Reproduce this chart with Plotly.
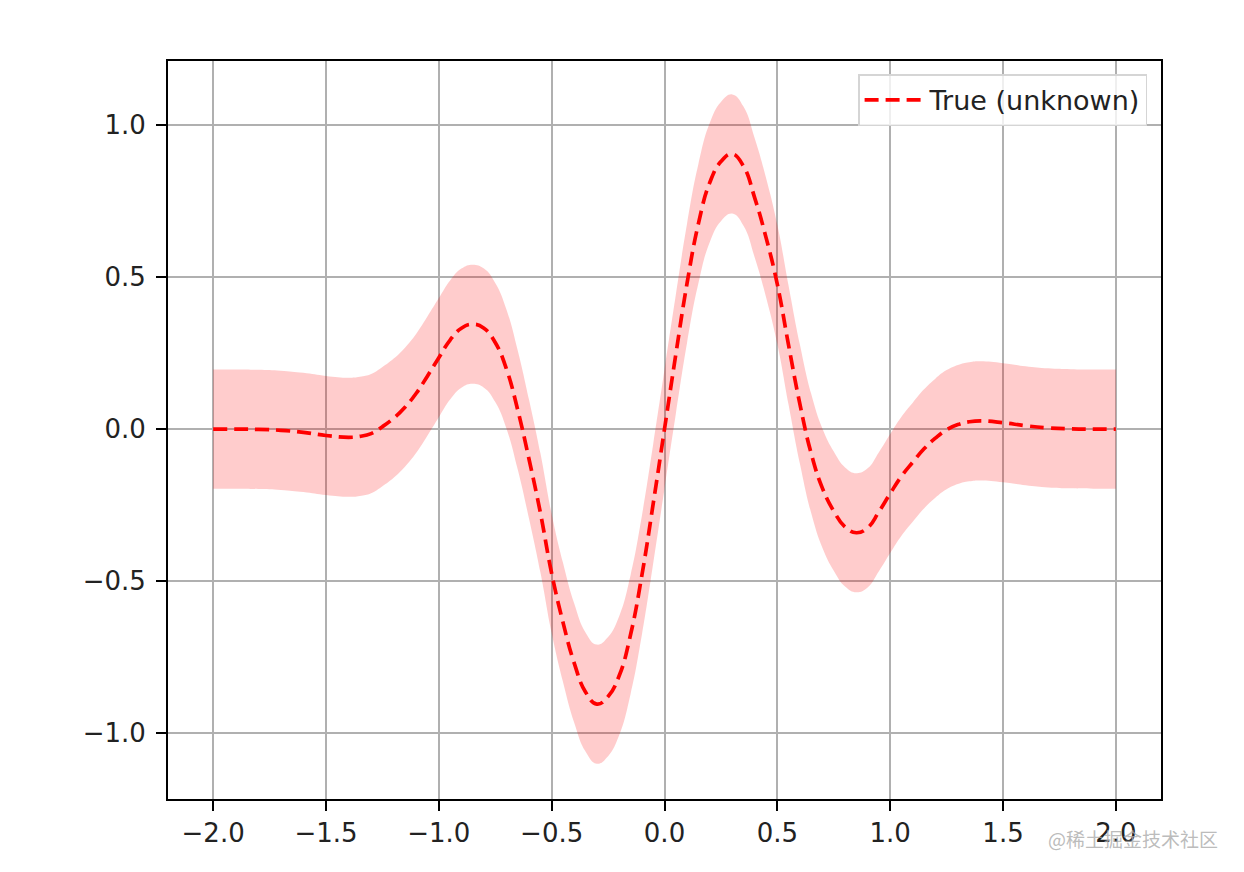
import plotly.graph_objects as go

# x positions and the "true" curve
x_vals = [-2.00, -1.90, -1.80, -1.70, -1.60, -1.50, -1.40, -1.35, -1.30, -1.25,
          -1.20, -1.15, -1.10, -1.05, -1.00, -0.95, -0.90, -0.85, -0.80, -0.75,
          -0.70, -0.65, -0.60, -0.55, -0.50, -0.45, -0.40, -0.35, -0.30, -0.25,
          -0.20, -0.15, -0.10, -0.05, 0.00, 0.05, 0.10, 0.15, 0.20, 0.25,
          0.30, 0.35, 0.40, 0.45, 0.50, 0.55, 0.60, 0.65, 0.70, 0.75,
          0.80, 0.85, 0.90, 0.95, 1.00, 1.05, 1.10, 1.15, 1.20, 1.25,
          1.30, 1.35, 1.40, 1.50, 1.60, 1.70, 1.80, 1.90, 2.00]
y_true = [0.000, 0.000, -0.001, -0.004, -0.011, -0.021, -0.027, -0.024, -0.015, 0.008,
          0.036, 0.072, 0.118, 0.175, 0.235, 0.293, 0.332, 0.345, 0.332, 0.285,
          0.197, 0.062, -0.100, -0.275, -0.475, -0.635, -0.770, -0.865, -0.905, -0.880,
          -0.810, -0.675, -0.480, -0.245, 0.000, 0.245, 0.480, 0.675, 0.810, 0.880,
          0.905, 0.865, 0.760, 0.630, 0.476, 0.275, 0.082, -0.080, -0.195, -0.270,
          -0.322, -0.341, -0.325, -0.272, -0.212, -0.155, -0.109, -0.065, -0.030, -0.002,
          0.015, 0.024, 0.027, 0.021, 0.011, 0.004, 0.001, 0.000, 0.000]

# half width of the shaded band (constant, about 1.96 * 0.1)
band_half = 0.196

x_ticks = [-2.0, -1.5, -1.0, -0.5, 0.0, 0.5, 1.0, 1.5, 2.0]
x_tick_labels = ['\u22122.0', '\u22121.5', '\u22121.0', '\u22120.5', '0.0', '0.5', '1.0', '1.5', '2.0']
y_ticks = [-1.0, -0.5, 0.0, 0.5, 1.0]
y_tick_labels = ['\u22121.0', '\u22120.5', '0.0', '0.5', '1.0']

lower = [v - band_half for v in y_true]
upper = [v + band_half for v in y_true]

fig = go.Figure()

# shaded band: lower edge first, then fill up to the upper edge
edge = dict(width=0, shape='spline', smoothing=1.3)
fig.add_trace(go.Scatter(x=x_vals, y=lower, mode='lines', line=edge,
                         showlegend=False, hoverinfo='skip'))
fig.add_trace(go.Scatter(x=x_vals, y=upper, mode='lines', line=edge,
                         fill='tonexty', fillcolor='rgba(255,0,0,0.2)',
                         showlegend=False, hoverinfo='skip'))

fig.add_trace(go.Scatter(x=x_vals, y=y_true, mode='lines', name='True (unknown)',
                         line=dict(color='red', width=3.7, dash='14px,7px',
                                   shape='spline', smoothing=1.3)))

axis_style = dict(showline=True, linecolor='black', linewidth=2, mirror=True,
                  showgrid=True, gridcolor='#b0b0b0', gridwidth=2, zeroline=False,
                  ticks='outside', ticklen=10, tickwidth=2, tickcolor='black',
                  tickfont=dict(family='DejaVu Sans', size=26, color='#222222'))

fig.update_xaxes(range=[-2.2, 2.2], tickvals=x_ticks, ticktext=x_tick_labels, **axis_style)
fig.update_yaxes(range=[-1.217, 1.211], tickvals=y_ticks, ticktext=y_tick_labels,
                 ticklabelstandoff=5, **axis_style)

fig.add_annotation(text='@稀土掘金技术社区', xref='paper', yref='paper', x=1.059, y=-0.054,
                   xanchor='right', yanchor='middle', showarrow=False,
                   font=dict(family='Noto Sans CJK SC', size=19, color='rgba(170,170,170,0.8)'))

# the page adds about 8px of body margin, so margins are shifted to compensate
fig.update_layout(
    width=1244, height=872,
    margin=dict(l=160, r=91, t=53, b=81),
    paper_bgcolor='white', plot_bgcolor='white',
    font=dict(family='DejaVu Sans', size=26, color='#222222'),
    legend=dict(x=0.986, y=0.982, xanchor='right', yanchor='top', itemwidth=60,
                bgcolor='rgba(255,255,255,0.8)', bordercolor='#d5d5d5', borderwidth=1.5,
                font=dict(family='DejaVu Sans', size=27, color='#222222')),
)

fig.write_html('out.html')
